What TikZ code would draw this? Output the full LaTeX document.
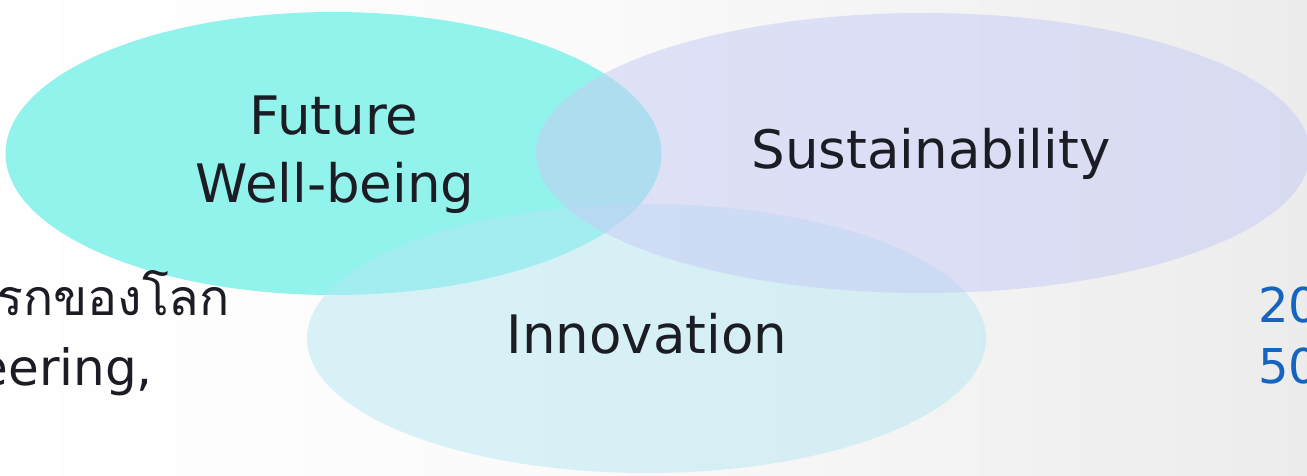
\documentclass[tikz,border=0pt]{standalone}
\usepackage{fontspec}
\setmainfont{DejaVu Sans}
\newfontfamily\thaifont[Script=Thai]{Loma}
\definecolor{bgmid}{RGB}{250,250,250}
\definecolor{bgright}{RGB}{236,236,236}
\definecolor{tealfill}{RGB}{146,242,236}
\definecolor{innofill}{RGB}{180,232,242}
\definecolor{lavfill}{RGB}{200,205,245}
\definecolor{txt}{RGB}{28,28,36}
\definecolor{numblue}{RGB}{21,101,192}
\pgfdeclarehorizontalshading{bgshade}{100bp}{color(0bp)=(white); color(25bp)=(white); color(48bp)=(bgmid); color(75bp)=(bgright); color(100bp)=(bgright)}
\tikzset{
  lbl/.style={inner sep=0pt, text=txt, font=\fontsize{53}{60}\selectfont, anchor=base},
  sidetxt/.style={inner sep=0pt, text=txt, font=\fontsize{50}{58}\selectfont},
  numtxt/.style={inner sep=0pt, text=numblue, font=\fontsize{48}{56}\selectfont, anchor=base west},
}
\begin{document}
\begin{tikzpicture}[x=1pt,y=-1pt]
\useasboundingbox (0,0) rectangle (1307,476);
\clip (0,0) rectangle (1307,476);
\shade[shading=bgshade] (0,0) rectangle (1307,476);
% ellipses
\fill[tealfill] (333.5,153.5) ellipse [x radius=328pt, y radius=141.5pt];
\fill[innofill, fill opacity=0.5] (646.5,338.5) ellipse [x radius=339.5pt, y radius=134.5pt];
\fill[lavfill, fill opacity=0.55] (923,153) ellipse [x radius=387pt, y radius=140pt];
% labels
\node[lbl] (fut) at (334,135) {Future};
\node[lbl] (wb) at (335,203) {Well-being};
\node[lbl] (sus) at (931,168) {Sustainability};
\node[lbl] (inn) at (647,353) {Innovation};
% cropped side texts
\node[sidetxt, anchor=base east] (thai) at (230,315) {\thaifont แรกของโลก};
\node[sidetxt, anchor=base east] (eng) at (153,385) {Engineering,};
\node[numtxt] (n20) at (1258,322) {20};
\node[numtxt] (n50) at (1258,383) {50};
\end{tikzpicture}
\end{document}
